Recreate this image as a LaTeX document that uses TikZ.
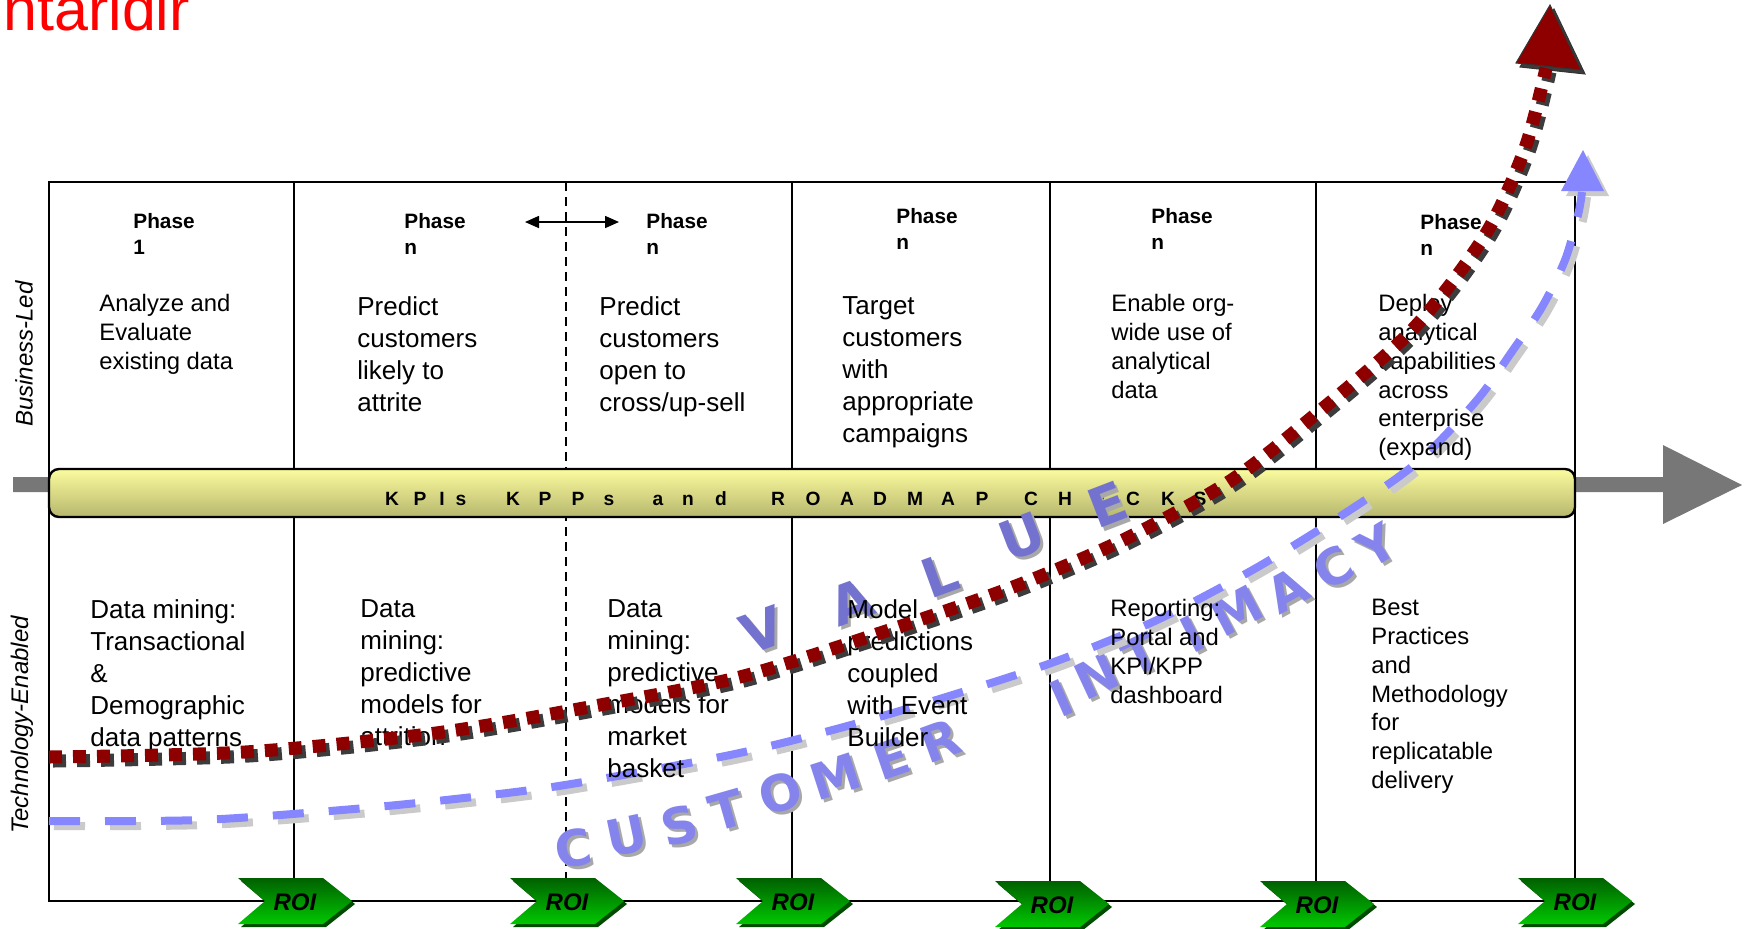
\documentclass[tikz,border=0pt]{standalone}
\usepackage{fontspec}
\setmainfont{Liberation Sans}
\newfontfamily\wmfont{DejaVu Sans}
\usepackage{tikz}
\usetikzlibrary{positioning,arrows.meta}
\definecolor{titlered}{HTML}{FF0000}
\definecolor{valred}{HTML}{8E0000}
\definecolor{redshadow}{HTML}{3C3C3C}
\definecolor{intblue}{HTML}{8686FF}
\definecolor{intshadow}{HTML}{CACACA}
\definecolor{barhi}{HTML}{FBFB9E}
\definecolor{barlo}{HTML}{B7B76E}
\definecolor{axisgray}{HTML}{777777}
\definecolor{roidark}{HTML}{006000}
\definecolor{roilight}{HTML}{00C800}
\definecolor{roishadow}{HTML}{004A00}
\definecolor{wmvalue}{HTML}{7373CF}
\definecolor{wmcust}{HTML}{8484EC}
\definecolor{wmshadow}{HTML}{A8A8A8}

\tikzset{
  phase/.style={anchor=north west, inner sep=0pt, align=left, font=\fontsize{10.4}{13}\selectfont\bfseries},
  bodytext/.style={anchor=north west, inner sep=0pt, align=left, font=\fontsize{13}{16}\selectfont},
  smalltext/.style={anchor=north west, inner sep=0pt, align=left, font=\fontsize{11.9}{14.4}\selectfont},
  sidelabel/.style={rotate=90, inner sep=0pt, font=\fontsize{12}{14}\selectfont\itshape},
  kpiletter/.style={anchor=base, inner sep=0pt, font=\fontsize{9.6}{10}\selectfont\bfseries},
  valueletter/.style={inner sep=0pt, font=\wmfont\bfseries\fontsize{27}{30}\selectfont},
  custletter/.style={inner sep=0pt, font=\wmfont\bfseries\fontsize{25}{30}\selectfont},
  roitext/.style={inner sep=0pt, font=\fontsize{12}{13}\selectfont\bfseries\itshape},
}

\begin{document}
\begin{tikzpicture}[x=0.5pt,y=-0.5pt]
\useasboundingbox (0,0) rectangle (1744,928);
\node[anchor=base west, inner sep=0pt, text=titlered, font=\fontsize{30.5}{33}\selectfont] (title) at (3,30) {ntaridir};

% frame and phase columns
\draw[line width=1pt] (49,182) rectangle (1575,901);
\foreach \x in {294,792,1050,1316} {\draw[line width=1pt] (\x,182) -- (\x,901);}
\draw[line width=1pt, dash pattern=on 4.5pt off 3pt] (566,182) -- (566,901);

% time axis and checks bar
\fill[axisgray] (13,477) -- (1663,477) -- (1663,445) -- (1742,485) -- (1663,524) -- (1663,492) -- (13,492) -- cycle;
\draw[line width=1.2pt, rounded corners=5pt, top color=barhi, bottom color=barlo] (49,469) rectangle (1575,517);
\foreach \ch/\x [count=\i] in {K/392,P/420,I/442,s/461,K/513,P/545,P/578,s/609,a/658,n/688,d/721,R/778,O/813,A/847,D/880,M/915,A/948,P/982,C/1031,H/1065,E/1099,C/1133,K/1168,S/1200}
  {\node[kpiletter] (kpi\i) at (\x,505) {\ch};}

% row labels
\node[sidelabel] (bizled) at (24,354) {Business-Led};
\node[sidelabel] (techen) at (22,725) {Technology-Enabled};

% phase headings
\node[phase] (phase1) at (133,213) {Phase\\1};
\node[phase] (phase2) at (404,213) {Phase\\n};
\node[phase] (phase3) at (646,213) {Phase\\n};
\node[phase] (phase4) at (896,208) {Phase\\n};
\node[phase] (phase5) at (1151,208) {Phase\\n};
\node[phase] (phase6) at (1420,214) {Phase\\n};
\coordinate (slideL) at (525,222);
\coordinate (slideR) at (619,222);
\draw[{Triangle[length=7pt,width=6pt]}-{Triangle[length=7pt,width=6pt]}, line width=0.8pt] (slideL) -- (slideR);

% watermark words
\foreach \ch/\x/\y/\a [count=\i] in {V/762/630/20,A/851/602/20,L/940/575/20,U/1022/537/21,E/1108/505/21}
  {\node[valueletter, text=wmshadow, rotate=\a] (vals\i) at (\x+3,\y+3) {\ch};
   \node[valueletter, text=wmvalue, rotate=\a] (val\i) at (\x,\y) {\ch};}
\foreach \ch/\x/\y/\a [count=\i] in {C/573/848/10,U/627/836/12,S/680/825/14,T/727/810/16,O/780/793/17,M/836/776/18,E/892/759/19,R/940/741/20,I/1062/698/24,N/1097/676/25,T/1141/655/26,I/1192/634/27,M/1237/611/28,A/1288/590/29,C/1333/568/30,Y/1377/546/31}
  {\node[custletter, text=wmshadow, rotate=\a] (cus\i) at (\x+3,\y+3) {\ch};
   \node[custletter, text=wmcust, rotate=\a] (cu\i) at (\x,\y) {\ch};}

% customer intimacy curve
\foreach \d/\col in {5/intshadow,0/intblue}
  {\draw[shift={(\d,\d)}, color=\col, line width=4pt, dash pattern=on 15.5pt off 12.5pt] plot[smooth] coordinates {(49,821) (200,820) (342,810) (455,799) (565,785) (730,755) (840,728) (946,697) (1054,662) (1157,620) (1256,568) (1353,508) (1420,460) (1477,400) (1513,350) (1542,307) (1565,260) (1578,215) (1582,192)};
   \fill[shift={(\d,\d)}, color=\col] (1583,150) -- (1604,191) -- (1561,191) -- cycle;}

% business-led texts
\node[smalltext] (analyze) at (99,294) {Analyze and\\Evaluate\\existing data};
\node[bodytext] (attrite) at (357,296) {Predict\\customers\\likely to\\attrite};
\node[bodytext] (upsell) at (599,296) {Predict\\customers\\open to\\cross/up-sell};
\node[bodytext] (target) at (842,296) {Target\\customers\\with\\appropriate\\campaigns};
\node[smalltext] (enable) at (1111,294) {Enable org-\\wide use of\\analytical\\data};
\node[smalltext] (deploy) at (1378,294) {Deploy\\analytical\\capabilities\\across\\enterprise\\(expand)};

% technology-enabled texts
\node[bodytext] (mining) at (90,599) {Data mining:\\Transactional\\\&\\Demographic\\data patterns};
\node[bodytext] (attrition) at (360,599) {Data\\mining:\\predictive\\models for\\attrition};
\node[bodytext] (basket) at (607,599) {Data\\mining:\\predictive\\models for\\market\\basket};
\node[bodytext] (model) at (847,599) {Model\\predictions\\coupled\\with Event\\Builder};
\node[smalltext] (reporting) at (1110,599) {Reporting:\\Portal and\\KPI/KPP\\dashboard};
\node[smalltext] (practices) at (1371,599) {Best\\Practices\\and\\Methodology\\for\\replicatable\\delivery};

% value curve
\foreach \d/\col in {4/redshadow,0/valred}
  {\draw[shift={(\d,\d)}, color=\col, line width=6.5pt, dash pattern=on 6.5pt off 5.5pt] plot[smooth] coordinates {(49,757) (245,752) (436,733) (600,705) (740,677) (880,633) (1013,587) (1123,540) (1227,483) (1305,423) (1412,330) (1485,235) (1525,148) (1546,68)};
   \filldraw[shift={(\d,\d)}, fill=\col, draw=black!80, line width=0.5pt] (1550,5) -- (1581,70) -- (1516,63) -- cycle;}

% ROI markers
\foreach \cx/\cy [count=\i] in {295/901,567/901,793/901,1052/904,1317/904,1575/901}
  {\fill[roishadow] (\cx-54,\cy-20) -- (\cx+31,\cy-20) -- (\cx+60,\cy+3) -- (\cx+31,\cy+26) -- (\cx-54,\cy+26) -- (\cx-27,\cy+3) -- cycle;
   \shade[top color=roidark, bottom color=roilight] (\cx-57,\cy-23) -- (\cx+28,\cy-23) -- (\cx+57,\cy) -- (\cx+28,\cy+23) -- (\cx-57,\cy+23) -- (\cx-30,\cy) -- cycle;
   \node[roitext] (roi\i) at (\cx,\cy+1) {ROI};}
\end{tikzpicture}
\end{document}
